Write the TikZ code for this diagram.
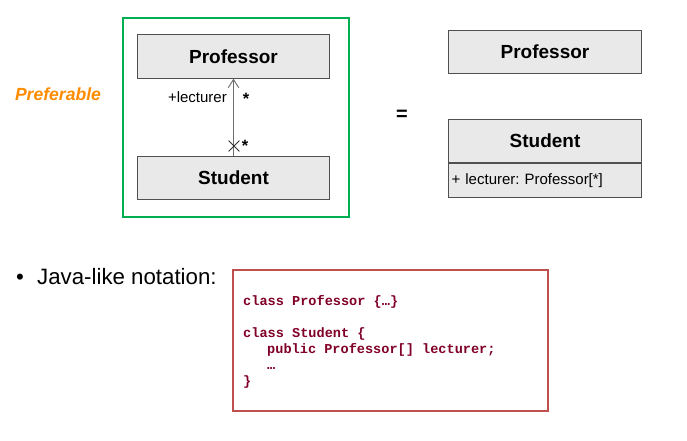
\documentclass[tikz,border=0pt]{standalone}
\usepackage{fontspec}
\setmainfont{Liberation Sans}
\setmonofont{Liberation Mono}
\usetikzlibrary{arrows.meta,shapes.misc}
\definecolor{boxgreen}{RGB}{0,176,80}
\definecolor{boxred}{RGB}{192,80,77}
\definecolor{codered}{RGB}{128,0,40}
\definecolor{prefer}{RGB}{255,140,0}
\definecolor{umlfill}{RGB}{233,233,233}
\definecolor{umlline}{RGB}{80,80,80}
\definecolor{assocline}{RGB}{110,110,110}
\frenchspacing
\tikzset{
  umlclass/.style={draw=umlline,fill=umlfill,line width=0.8pt,minimum width=5.78cm,minimum height=1.3cm,inner sep=0pt,font=\fontsize{16.2pt}{18pt}\selectfont\bfseries},
  umlattr/.style={draw=umlline,fill=umlfill,line width=0.8pt,minimum width=5.78cm,minimum height=1.02cm,inner sep=3pt,align=left,text width=5.6cm,font=\fontsize{12.8pt}{14pt}\selectfont},
  rolelabel/.style={inner sep=0pt,font=\fontsize{12.8pt}{14pt}\selectfont},
  multlabel/.style={inner sep=0pt,font=\fontsize{14pt}{16pt}\selectfont\bfseries},
  codeline/.style={anchor=base west,inner sep=0pt,text=codered,font=\ttfamily\bfseries\fontsize{11.6pt}{13pt}\selectfont}
}
\begin{document}
\begin{tikzpicture}[x=0.03cm,y=-0.03cm]
\useasboundingbox (0,0) rectangle (687,441);
% preferable variant
\draw[boxgreen,line width=1.6pt] (123,18) rectangle (349,217);
\node[text=prefer,font=\fontsize{15pt}{17pt}\selectfont\bfseries\itshape] (pref) at (58,94) {Preferable};
\node[umlclass] (prof) at (233.5,56.5) {Professor};
\node[umlclass] (stud) at (233.5,178) {Student};
\draw[assocline,line width=0.8pt,-{Straight Barb[length=7pt,width=9pt,line width=0.8pt]}] (stud) -- (prof);
\node[cross out,draw=black!80,line width=0.7pt,minimum size=0.3cm,inner sep=0pt] (nonav) at (234,146) {};
\node[rolelabel,anchor=east] (role) at (227,97) {+lecturer};
\node[multlabel] (multp) at (246,99) {*};
\node[multlabel] (mults) at (245,146) {*};
% equivalent attribute
\node[font=\fontsize{17pt}{19pt}\selectfont\bfseries] (eq) at (402,115) {=};
\node[umlclass] (profR) at (545,52) {Professor};
\node[umlclass] (studR) at (545,141) {Student};
\node[umlattr,anchor=north] (attrR) at (studR.south) {+ lecturer: Professor[*]};
% java notation
\node[anchor=base,inner sep=0pt,font=\fontsize{19pt}{21pt}\selectfont] (bullet) at (20,284) {•};
\node[anchor=base west,inner sep=0pt,font=\fontsize{19pt}{21pt}\selectfont] (java) at (37,284) {Java-like notation:};
\draw[boxred,line width=0.9pt] (233,270) rectangle (548,411);
\node[codeline] (c1) at (243,305) {class Professor \{…\}};
\node[codeline] (c2) at (243,337) {class Student \{};
\node[codeline] (c3) at (267,353) {public Professor[] lecturer;};
\node[codeline] (c4) at (267,369) {…};
\node[codeline] (c5) at (243,385) {\}};
\end{tikzpicture}
\end{document}
